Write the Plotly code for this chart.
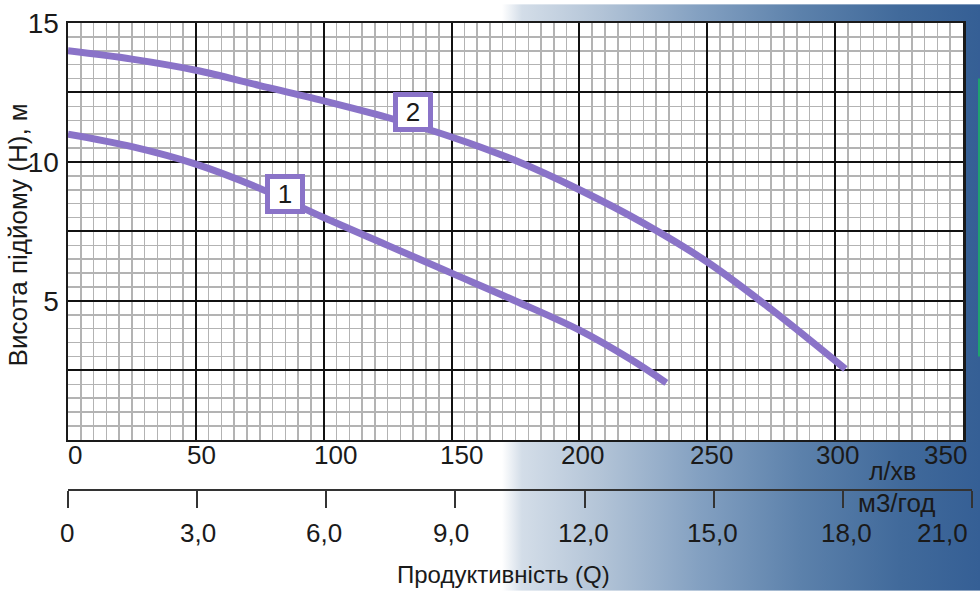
import base64
import plotly.graph_objects as go

# ---------------- data ----------------
Q_CURVE1 = [0, 25, 50, 75, 100, 125, 150, 175, 200, 220, 234]
H_CURVE1 = [11.0, 10.55, 9.92, 9.05, 8.0, 7.0, 6.0, 5.0, 3.95, 2.9, 2.05]

Q_CURVE2 = [0, 25, 50, 75, 100, 125, 150, 175, 200, 225, 250, 275, 304]
H_CURVE2 = [14.0, 13.7, 13.3, 12.75, 12.2, 11.6, 10.9, 10.05, 9.0, 7.8, 6.4, 4.7, 2.55]

CURVE_LABELS = ["1", "2"]

Q_LPM_TICKS = [0, 50, 100, 150, 200, 250, 300, 350]
Q_LPM_LABELS = ["0", "50", "100", "150", "200", "250", "300", "350"]
Q_M3H_TICKS = [0, 3, 6, 9, 12, 15, 18, 21]
Q_M3H_LABELS = ["0", "3,0", "6,0", "9,0", "12,0", "15,0", "18,0", "21,0"]
H_TICKS = [0, 2.5, 5, 7.5, 10, 12.5, 15]
H_LABELS = ["", "", "5", "", "10", "", "15"]

# ---------------- style / layout ----------------
W, H = 980, 591
ML, MR, MT, MB = 68, 8, 19, 31
PW, PH = W - ML - MR, H - MT - MB
PLOT_RIGHT = 963
PLOT_BOTTOM = 439
AX2_Y = 488


def pxx(px):
    return (px - ML) / PW


def pxy(py):
    return (H - MB - py) / PH


FONT = "Liberation Sans, Arial, sans-serif"
PURPLE = "#8a73c8"
TXT = "#1a1a1a"

LPM_SHIFTS = [7, 6, 12, 10, 3, 4, 2, -18]
M3H_SHIFTS = [-1, 1, -2, -4, -1, -1, 4, -30]
LABEL_POS = [(85, 8.85), (135, 11.8)]

# gradient background as svg data uri
grad_x0, grad_x1 = 502, 980
stops = [(502, "#ffffff"), (522, "#d3dde8"), (600, "#b3c4d7"), (700, "#83a0c1"),
         (800, "#5c81ab"), (900, "#416a9b"), (980, "#355f95")]
gw = grad_x1 - grad_x0
stop_xml = "".join(
    f"<stop offset='{(p - grad_x0) / gw:.4f}' stop-color='{c}'/>" for p, c in stops)
svg = (f"<svg xmlns='http://www.w3.org/2000/svg' width='{gw}' height='{H}' "
       f"viewBox='0 0 {gw} {H}' preserveAspectRatio='none'>"
       f"<defs><linearGradient id='g' x1='0' x2='1' y1='0' y2='0'>{stop_xml}"
       f"</linearGradient></defs><rect width='{gw}' height='{H}' fill='url(#g)'/></svg>")
svg_uri = "data:image/svg+xml;base64," + base64.b64encode(svg.encode()).decode()

fig = go.Figure()

for qx, hy in ((Q_CURVE1, H_CURVE1), (Q_CURVE2, H_CURVE2)):
    fig.add_trace(go.Scatter(
        x=qx, y=hy, mode="lines",
        line=dict(color=PURPLE, width=7, shape="spline", smoothing=1.0),
        hoverinfo="skip", showlegend=False))

# helper trace so that the secondary (m3/год) axis subplot is created
fig.add_trace(go.Scatter(
    x=Q_M3H_TICKS, y=[0] * len(Q_M3H_TICKS), xaxis="x2", yaxis="y2",
    mode="markers", marker=dict(opacity=0, size=1), hoverinfo="skip",
    showlegend=False))

annotations = []
for (lx, ly), txt in zip(LABEL_POS, CURVE_LABELS):
    annotations.append(dict(
        x=lx, y=ly, xref="x", yref="y", text=txt, showarrow=False,
        font=dict(family=FONT, size=26, color=TXT),
        bgcolor="white", bordercolor=PURPLE, borderwidth=5, borderpad=0,
        width=30, height=30, xanchor="center", yanchor="middle"))

for v, t, s in zip(Q_LPM_TICKS, Q_LPM_LABELS, LPM_SHIFTS):
    annotations.append(dict(
        x=v, y=0, xref="x", yref="y", text=t, showarrow=False,
        xshift=s, yshift=-(454 - PLOT_BOTTOM), yanchor="middle", xanchor="center",
        font=dict(family=FONT, size=26, color=TXT)))

for v, t, s in zip(Q_M3H_TICKS, Q_M3H_LABELS, M3H_SHIFTS):
    annotations.append(dict(
        x=v, y=0, xref="x2", yref="y", text=t, showarrow=False,
        xshift=s, yshift=-(532 - PLOT_BOTTOM), yanchor="middle", xanchor="center",
        font=dict(family=FONT, size=26, color=TXT)))

annotations += [
    dict(x=pxx(892), y=pxy(470), xref="paper", yref="paper", text="л/хв",
         showarrow=False, font=dict(family=FONT, size=25, color=TXT),
         xanchor="center", yanchor="middle"),
    dict(x=pxx(897), y=pxy(503), xref="paper", yref="paper", text="м3/год",
         showarrow=False, font=dict(family=FONT, size=26, color=TXT),
         xanchor="center", yanchor="middle"),
    dict(x=pxx(503), y=pxy(575), xref="paper", yref="paper", text="Продуктивність (Q)",
         showarrow=False, font=dict(family=FONT, size=24, color=TXT),
         xanchor="center", yanchor="middle"),
    dict(x=pxx(18), y=pxy(233), xref="paper", yref="paper", text="Висота підйому (H), м",
         showarrow=False, textangle=-90, font=dict(family=FONT, size=26, color=TXT),
         xanchor="center", yanchor="middle"),
]

shapes = [
    dict(type="rect", xref="x", yref="y", x0=Q_LPM_TICKS[0], x1=Q_LPM_TICKS[-1],
         y0=H_TICKS[0], y1=H_TICKS[-1], fillcolor="white", line=dict(width=0),
         layer="below"),
    dict(type="line", xref="paper", yref="paper", x0=pxx(979), x1=pxx(979),
         y0=pxy(75), y1=pxy(355), line=dict(color="#1ea36e", width=2)),
]

fig.update_layout(
    width=W, height=H,
    margin=dict(l=ML, r=MR, t=MT, b=MB, pad=0),
    paper_bgcolor="white",
    plot_bgcolor="rgba(0,0,0,0)",
    showlegend=False,
    font=dict(family=FONT, color=TXT),
    images=[dict(source=svg_uri, xref="paper", yref="paper",
                 x=pxx(grad_x0), y=pxy(0), sizex=pxx(grad_x1) - pxx(grad_x0),
                 sizey=pxy(0) - pxy(H), xanchor="left", yanchor="top",
                 sizing="stretch", layer="below")],
    xaxis=dict(
        domain=[0, pxx(PLOT_RIGHT)], range=[Q_LPM_TICKS[0], Q_LPM_TICKS[-1]],
        anchor="y", tickmode="array", tickvals=Q_LPM_TICKS, showticklabels=False,
        ticks="", showgrid=True, gridcolor="#111111", gridwidth=2,
        showline=True, linecolor="#1a1a1a", linewidth=2.5, mirror=True,
        zeroline=False,
        minor=dict(tickmode="linear", tick0=0, dtick=5, showgrid=True,
                   gridcolor="#b3b3b3", gridwidth=1.5, ticks=""),
        fixedrange=True),
    yaxis=dict(
        domain=[pxy(PLOT_BOTTOM), 1], range=[H_TICKS[0], H_TICKS[-1]],
        anchor="x", tickmode="array", tickvals=H_TICKS, ticktext=H_LABELS,
        ticks="", ticklabelstandoff=1,
        tickfont=dict(family=FONT, size=28, color=TXT),
        showgrid=True, gridcolor="#111111", gridwidth=2,
        showline=True, linecolor="#1a1a1a", linewidth=2.5, mirror=True,
        zeroline=False,
        minor=dict(tickmode="linear", tick0=0, dtick=0.5, showgrid=True,
                   gridcolor="#b3b3b3", gridwidth=1.5, ticks=""),
        fixedrange=True),
    xaxis2=dict(
        domain=[0, 1], range=[Q_M3H_TICKS[0], Q_M3H_TICKS[-1]], anchor="y2",
        side="bottom", tickmode="array", tickvals=Q_M3H_TICKS,
        showticklabels=False, ticks="outside", ticklen=17, tickwidth=2,
        tickcolor="#333333", showline=True, linecolor="#333333", linewidth=2,
        showgrid=False, zeroline=False, fixedrange=True),
    yaxis2=dict(
        domain=[pxy(AX2_Y), pxy(AX2_Y) + 0.01], anchor="x2", range=[1, 2],
        showline=False, showticklabels=False, ticks="", showgrid=False,
        zeroline=False, fixedrange=True),
    annotations=annotations,
    shapes=shapes,
)

fig.write_html(
    "out.html",
    config={"displayModeBar": False, "staticPlot": True},
    post_script="document.body.style.margin='0';document.body.style.overflow='hidden';",
)
